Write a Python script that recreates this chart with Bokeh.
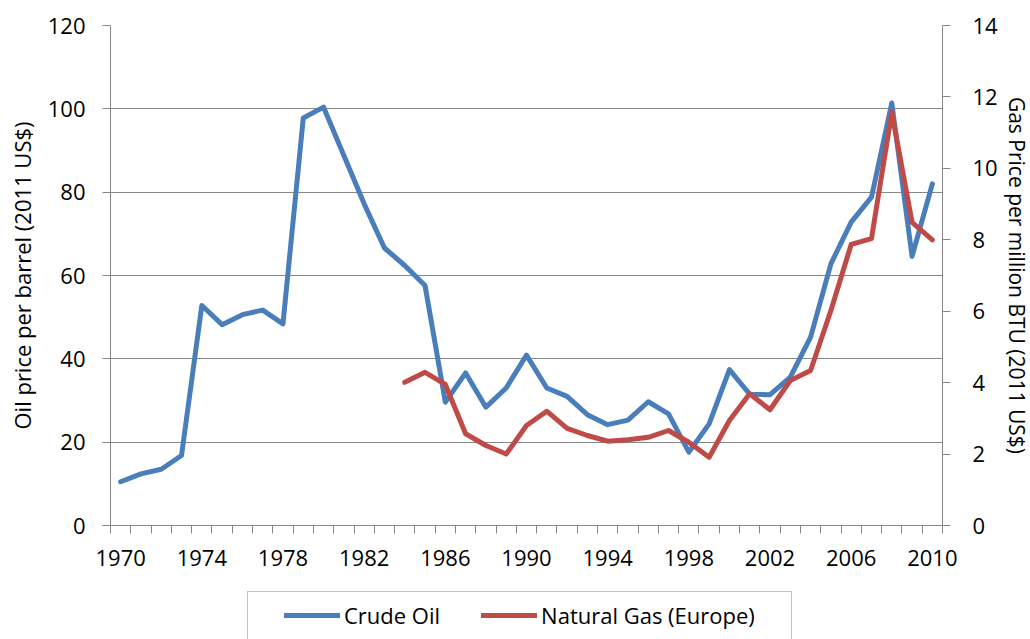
from bokeh.plotting import figure
from bokeh.layouts import column
from bokeh.models import (Range1d, LinearAxis, FixedTicker, Legend, LegendItem)
from bokeh.embed import file_html
from bokeh.resources import INLINE

years = list(range(1970, 2011))
oil = [10.5, 12.4, 13.5, 16.8, 52.8, 48.2, 50.6, 51.7, 48.4, 97.8,
       100.4, 88.8, 77.2, 66.6, 62.4, 57.6, 29.6, 36.6, 28.4, 33.0,
       40.9, 33.0, 31.0, 26.6, 24.2, 25.3, 29.7, 26.8, 17.6, 24.4,
       37.4, 31.5, 31.4, 35.6, 45.2, 62.8, 72.8, 78.8, 101.4, 64.6, 82.0]
gas_years = list(range(1984, 2011))
gas = [4.01, 4.29, 3.95, 2.57, 2.24, 2.0, 2.8, 3.2, 2.72, 2.52,
       2.36, 2.40, 2.47, 2.66, 2.33, 1.91, 2.94, 3.69, 3.24, 4.06,
       4.34, 6.02, 7.87, 8.03, 11.57, 8.49, 8.0]

x_ticks = list(range(1970, 2011, 4))
oil_ticks = list(range(0, 121, 20))
gas_ticks = list(range(0, 15, 2))

FONT = "Open Sans"
FS = "22px"
GRID = "#868686"
BLUE = "#4A7EBB"
RED = "#BE4B48"

p = figure(frame_width=832, frame_height=500,
           x_range=Range1d(1969.5, 2010.5), y_range=Range1d(0, 120),
           output_backend="svg", toolbar_location=None,
           min_border_left=110, min_border_right=88,
           min_border_top=25, min_border_bottom=60)
p.outline_line_color = None
p.background_fill_color = "white"
p.border_fill_color = "white"
p.extra_y_ranges = {"gas": Range1d(0, 14)}

p.xgrid.grid_line_color = None
p.ygrid.grid_line_color = GRID
p.ygrid.grid_line_width = 1
p.ygrid.ticker = FixedTicker(ticks=oil_ticks)

# x axis
xa = p.xaxis[0]
xa.ticker = FixedTicker(ticks=x_ticks, minor_ticks=[y - 0.5 for y in years] + [2010.5])
xa.major_tick_line_color = None
xa.major_tick_out = 0
xa.major_tick_in = 0
xa.minor_tick_line_color = GRID
xa.minor_tick_out = 8
xa.minor_tick_in = 0
xa.axis_line_color = GRID
xa.major_label_standoff = 16

# left axis
ya = p.yaxis[0]
ya.ticker = FixedTicker(ticks=oil_ticks)
ya.axis_label = "Oil price per barrel (2011 US$)"
ya.major_tick_out = 8
ya.major_tick_in = 0
ya.minor_tick_line_color = None
ya.major_label_standoff = 17
ya.axis_label_standoff = 8
ya.axis_line_color = GRID
ya.major_tick_line_color = GRID

# right axis
ra = LinearAxis(y_range_name="gas", ticker=FixedTicker(ticks=gas_ticks),
                axis_label="Gas Price per million BTU (2011 US$)")
ra.major_tick_out = 8
ra.major_tick_in = 0
ra.minor_tick_line_color = None
ra.major_label_standoff = 22
ra.axis_label_standoff = 2
ra.axis_line_color = GRID
ra.major_tick_line_color = GRID
p.add_layout(ra, "right")

for ax in (xa, ya, ra):
    ax.major_label_text_font = FONT
    ax.major_label_text_font_size = FS
    ax.major_label_text_color = "black"
    ax.axis_label_text_font = FONT
    ax.axis_label_text_font_size = FS
    ax.axis_label_text_font_style = "normal"
    ax.axis_label_text_color = "black"
ra.axis_label_text_font_size = "21px"

p.line(years, oil, line_color=BLUE, line_width=5, line_join="round", line_cap="round")
p.line(gas_years, gas, line_color=RED, line_width=5, line_join="round", line_cap="round",
       y_range_name="gas")

# legend strip below the chart (its box runs past the bottom edge)
p2 = figure(frame_width=1030, frame_height=54, x_range=Range1d(0, 1), y_range=Range1d(0, 1),
            output_backend="svg", toolbar_location=None, min_border=0,
            x_axis_location=None, y_axis_location=None)
p2.grid.visible = False
p2.outline_line_color = None
p2.background_fill_color = "white"
p2.border_fill_color = "white"

# swatch carriers: same series, lying outside this strip's visible range
oil_sw = p2.line(years, oil, line_color=BLUE, line_width=5, line_cap="round")
gas_sw = p2.line(gas_years, gas, line_color=RED, line_width=5, line_cap="round")
dummy = p2.line(years, oil, line_alpha=0)

box = Legend(items=[LegendItem(label=" ", renderers=[dummy])],
             location=(247, -34), orientation="horizontal",
             padding=0, margin=0, spacing=0,
             glyph_width=543, glyph_height=80, label_standoff=0,
             label_width=0, label_height=0,
             label_text_font_size="4px",
             border_line_color=GRID, border_line_width=1,
             background_fill_alpha=0)
p2.add_layout(box, "center")

leg = Legend(items=[LegendItem(label="Crude Oil", renderers=[oil_sw]),
                    LegendItem(label="Natural Gas (Europe)", renderers=[gas_sw])],
             location=(284, 9), orientation="horizontal",
             padding=0, margin=0, spacing=41,
             glyph_width=56, glyph_height=20, label_standoff=4,
             label_text_font=FONT, label_text_font_size=FS,
             label_text_color="black",
             border_line_alpha=0, background_fill_alpha=0)
p2.add_layout(leg, "center")

layout = column(p, p2, spacing=0)
open("out.html", "w").write(file_html(layout, INLINE))
